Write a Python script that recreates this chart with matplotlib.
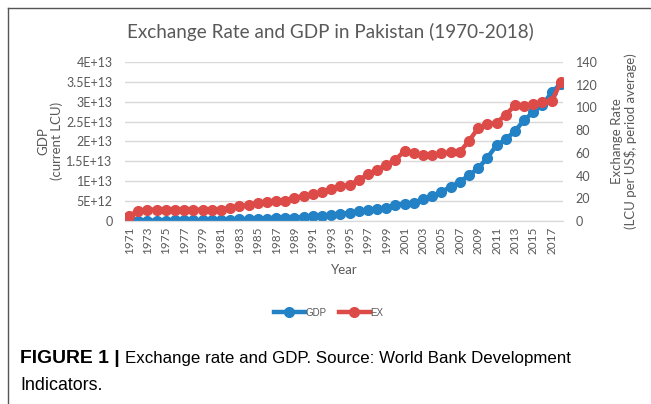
import numpy as np
from matplotlib import pyplot as plt
from matplotlib.lines import Line2D
from matplotlib.ticker import FuncFormatter, MultipleLocator

# years shown on the category axis
years = list(range(1971, 2019))

# GDP (current LCU), in trillions
gdp_trn = [0.05, 0.06, 0.08, 0.10, 0.12, 0.14, 0.16, 0.19, 0.21, 0.26,
           0.31, 0.36, 0.41, 0.47, 0.53, 0.58, 0.65, 0.76, 0.86, 0.97,
           1.15, 1.34, 1.51, 1.77, 2.09, 2.39, 2.66, 2.98, 3.26, 4.00,
           4.30, 4.60, 5.50, 6.30, 7.30, 8.60, 9.80, 11.5, 13.2, 15.9,
           19.0, 20.5, 22.6, 25.3, 27.4, 29.1, 32.3, 34.5]

# exchange rate (LCU per US$, period average)
ex_rate = [4.76, 8.68, 9.99, 9.90, 9.90, 9.90, 9.90, 9.90, 9.90, 9.90,
           9.90, 11.85, 13.12, 14.05, 15.93, 16.65, 17.40, 18.00, 20.54, 21.71,
           23.80, 25.08, 28.11, 30.57, 31.64, 36.08, 41.11, 45.05, 49.50, 53.65,
           61.93, 59.72, 57.75, 58.26, 59.51, 60.27, 60.74, 70.41, 81.71, 85.19,
           86.34, 93.40, 101.63, 101.10, 102.77, 104.77, 105.46, 121.82]

gdp = np.array(gdp_trn) * 1e12

blue = '#2381C6'
red = '#DD4B49'
txt = '#595959'
font = 'Lato'
cap_font = ['Liberation Sans', 'DejaVu Sans']


def excel_sci(v, pos):
    # Excel style labels: 0, 5E+12, 1E+13, 1.5E+13 ...
    if v == 0:
        return '0'
    exp = int(np.floor(np.log10(abs(v)) + 1e-9))
    mant = v / 10**exp
    return ('%g' % round(mant, 3)) + 'E+%d' % exp


def fit_text(x, y, s, width_px, **kw):
    # put a text and scale its size so it spans width_px pixels
    t = fig.text(x, y, s, **kw)
    w = t.get_window_extent(fig.canvas.get_renderer()).width
    t.set_fontsize(t.get_fontsize() * width_px / w)
    return t


fig = plt.figure(figsize=(6.51, 4.04), dpi=100)
ax = fig.add_axes([0.192, 0.453, 0.673, 0.394])
ax2 = ax.twinx()

ax.plot(years, gdp, color=blue, lw=3.2, marker='o', ms=7, label='GDP')
ax2.plot(years, ex_rate, color=red, lw=3.2, marker='o', ms=7, label='EX')

ax.set_xlim(1970.55, 2018.25)
ax.set_ylim(0, 4e13)
ax2.set_ylim(0, 140)
ax.yaxis.set_major_locator(MultipleLocator(5e12))
ax.yaxis.set_major_formatter(FuncFormatter(excel_sci))
ax2.yaxis.set_major_locator(MultipleLocator(20))
ax.set_xticks(years[::2])
ax.set_xticklabels([str(y) for y in years[::2]], rotation=90)

# grid from the primary axis
ax.grid(axis='y', color='#D9D9D9', lw=1)
ax.set_axisbelow(True)
for a in (ax, ax2):
    for s in ('left', 'right', 'top'):
        a.spines[s].set_visible(False)
    a.spines['bottom'].set_color('#D9D9D9')
    a.tick_params(length=0, labelsize=9, labelcolor=txt, pad=9)
    for lab in a.get_xticklabels() + a.get_yticklabels():
        lab.set_family(font)
ax.tick_params(axis='x', pad=4, labelsize=8.5)

ax.set_xlabel('Year', fontsize=9.5, color=txt, family=font, labelpad=7)
ax.set_ylabel('GDP\n(current LCU)', fontsize=9.5, color=txt, family=font,
              labelpad=2, linespacing=1.1)
ax2.set_ylabel('Exchange Rate\n(LCU per US$, period average)', fontsize=9.5,
               color=txt, family=font, labelpad=10, linespacing=1.1)

fig.text(0.508, 0.921, 'Exchange Rate and GDP in Pakistan (1970-2018)',
         ha='center', va='center', fontsize=13.6, color=txt, family=font)

# legend below the chart
h1, l1 = ax.get_legend_handles_labels()
h2, l2 = ax2.get_legend_handles_labels()
fig.legend(h1 + h2, l1 + l2, loc='center', bbox_to_anchor=(0.505, 0.226),
           ncol=2, frameon=False, handlelength=3.2,
           handletextpad=0.1, columnspacing=1.2, labelcolor=txt,
           prop={'family': cap_font, 'size': 7})

# caption
fit_text(0.031, 0.112, 'FIGURE 1 |', 100, fontsize=12, weight='bold',
         family=cap_font, va='center')
fit_text(0.192, 0.112, 'Exchange rate and GDP. Source: World Bank Development',
         447, fontsize=12, family=cap_font, va='center')
fit_text(0.031, 0.047, 'Indicators.', 83, fontsize=12, family=cap_font,
         va='center')

# page frame (top and left edges)
fig.add_artist(Line2D([0.012, 1.0], [0.980, 0.980], color='#555555', lw=1))
fig.add_artist(Line2D([0.012, 0.012], [0.0, 0.980], color='#555555', lw=1))

fig.savefig('out.png', dpi=100)
